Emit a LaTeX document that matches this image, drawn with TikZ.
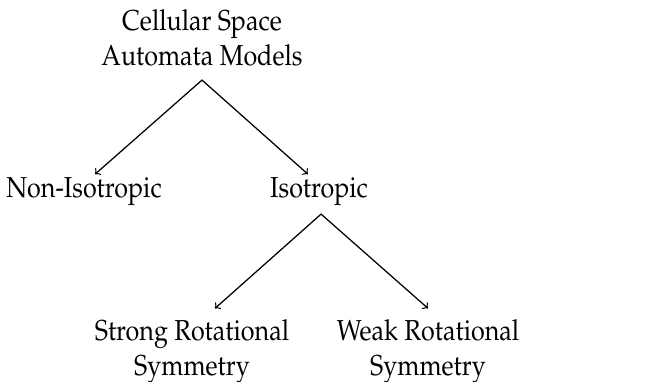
\documentclass[tikz,border=0pt]{standalone}
\usepackage[T1]{fontenc}
\usepackage{mathpazo}
\newcommand{\lbl}[1]{\scalebox{1}[1.15]{\begin{tabular}{@{}c@{}}#1\end{tabular}}}
\begin{document}
\begin{tikzpicture}[
        x=0.478pt,
        y=-0.478pt,
        line cap=round,
        line join=round,
        every node/.style={font=\fontsize{12}{14.5}\selectfont, inner sep=0pt},
        edge/.style={->, semithick}
    ]
        \useasboundingbox (0,0) rectangle (647,381);
        % Nodes
        \node (top)    at (202,41)  {\lbl{Cellular Space\\Automata Models}};
        \node (noniso) at (84,191)  {\lbl{Non-Isotropic}};
        \node (iso)    at (319,191) {\lbl{Isotropic}};
        \node (strong) at (192,351) {\lbl{Strong Rotational\\Symmetry}};
        \node (weak)   at (428,351) {\lbl{Weak Rotational\\Symmetry}};
        % Arrows
        \draw[edge] ([yshift=-1.8pt]top.south) -- ([xshift=5.3pt,yshift=-0.5pt]noniso.north);
        \draw[edge] ([yshift=-1.8pt]top.south) -- ([xshift=-5.3pt,yshift=-0.5pt]iso.north);
        \draw[edge] ([xshift=1pt,yshift=-2.5pt]iso.south) -- ([xshift=11pt,yshift=3.5pt]strong.north);
        \draw[edge] ([xshift=1pt,yshift=-2.5pt]iso.south) -- ([yshift=3.5pt]weak.north);
\end{tikzpicture}
\end{document}
